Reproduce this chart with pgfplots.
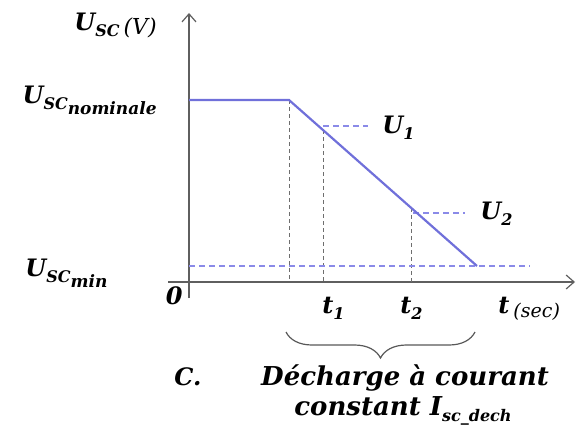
\documentclass[border=0pt]{standalone}
\usepackage{pgfplots}
\pgfplotsset{compat=1.18}
\usepackage{fontspec}
\setmainfont{DejaVu Serif}
\usetikzlibrary{arrows.meta,decorations.pathreplacing}

\definecolor{curve}{RGB}{112,112,218}
\definecolor{level}{RGB}{138,138,232}
\definecolor{guide}{RGB}{110,110,110}
\definecolor{axisgray}{RGB}{95,95,95}

% bold italic label text and lowered subscripts
\newcommand\lbl[1]{{\fontsize{12}{14}\selectfont\bfseries\itshape #1}}
\newcommand\sub[1]{\raisebox{-0.5ex}{\fontsize{8}{9}\selectfont\bfseries\itshape #1}}
\newcommand\subsub[1]{\raisebox{-0.9ex}{\fontsize{8.5}{9}\selectfont\bfseries\itshape #1}}
\newcommand\unit[2]{\raisebox{-0.4ex}{\fontsize{#1}{10}\selectfont\mdseries\itshape #2}}

% discharge profile: time and voltage in drawing units
\pgfplotstableread{
t   u
0   182
100 182
288 16
}\profile

\begin{document}
\begin{tikzpicture}
\useasboundingbox (-94.5pt,-73.5pt) rectangle (193.5pt,141pt);
\begin{axis}[
  anchor=origin, at={(0,0)},
  x=0.5pt, y=0.5pt,
  xmin=-21, xmax=386, ymin=-16, ymax=269,
  axis lines=middle,
  axis line style={axisgray, line width=1pt, -{Straight Barb[length=4pt,width=7pt,line width=0.6pt]}},
  xtick=\empty, ytick=\empty,
  clip=false,
]
% guide lines
\addplot[guide, dash pattern=on 2pt off 1.5pt, line width=0.5pt] coordinates {(100,182) (100,0)};
\addplot[guide, dash pattern=on 2pt off 1.5pt, line width=0.5pt] coordinates {(134,152) (134,0)};
\addplot[guide, dash pattern=on 2pt off 1.5pt, line width=0.5pt] coordinates {(222,74) (222,0)};
\addplot[level, dash pattern=on 3pt off 2pt, line width=0.7pt] coordinates {(134,156) (179,156)};
\addplot[level, dash pattern=on 3pt off 2pt, line width=0.7pt] coordinates {(224,69) (276,69)};
\addplot[level, dash pattern=on 3pt off 2pt, line width=0.7pt] coordinates {(0,16) (341,16)};
% voltage curve
\addplot[curve, line width=1.1pt] table[x=t, y=u] {\profile};

% labels
\node[anchor=base east, inner sep=0pt] at (axis cs:-32,252) {\lbl{U\sub{SC}\,\unit{11}{(V)}}};
\node[anchor=base east, inner sep=0pt] at (axis cs:-32,179) {\lbl{U\sub{SC}\subsub{nominale}}};
\node[anchor=base west, inner sep=0pt] at (axis cs:-164,6) {\lbl{U\sub{SC}\subsub{min}}};
\node[anchor=base east, inner sep=0pt] at (axis cs:-6,-22) {\lbl{0}};
\node[anchor=base west, inner sep=0pt] at (axis cs:193,149) {\lbl{U\sub{1}}};
\node[anchor=base west, inner sep=0pt] at (axis cs:291,63) {\lbl{U\sub{2}}};
\node[anchor=base west, inner sep=0pt] at (axis cs:133,-31) {\lbl{t\sub{1}}};
\node[anchor=base west, inner sep=0pt] at (axis cs:211,-31) {\lbl{t\sub{2}}};
\node[anchor=base west, inner sep=0pt] at (axis cs:309,-31) {\lbl{t\,\unit{9.5}{(sec)}}};
\draw[decorate, decoration={brace, mirror, amplitude=13pt}, guide!80!black, line width=0.6pt]
  (axis cs:97,-50) -- (axis cs:286,-50);
\node[anchor=base west, inner sep=0pt] at (axis cs:-15,-103) {\lbl{C.}};
\node[anchor=base, inner sep=0pt, align=center] at (axis cs:216,-103)
  {{\fontsize{13}{16}\selectfont\bfseries\itshape Décharge à courant}};
\node[anchor=base, inner sep=0pt] at (axis cs:214,-133)
  {{\fontsize{13}{16}\selectfont\bfseries\itshape constant I\sub{sc\_dech}}};
\end{axis}
\end{tikzpicture}
\end{document}
